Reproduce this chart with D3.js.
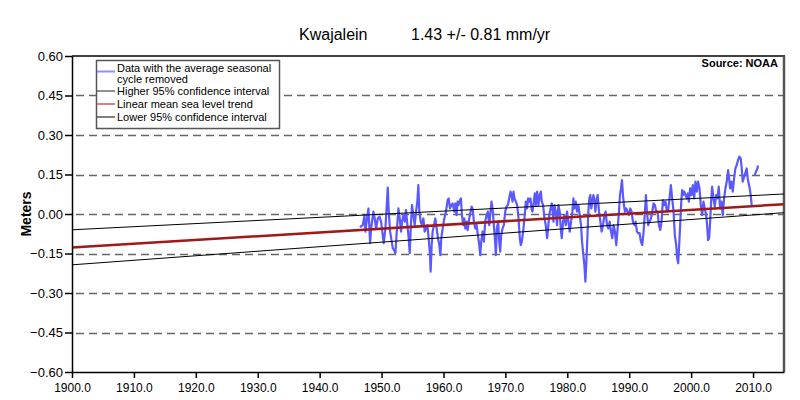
<!DOCTYPE html>
<html>
<head>
<meta charset="utf-8">
<script src="https://cdn.jsdelivr.net/npm/d3@7"></script>
<style>
body { margin: 0; background: #fff; }
text { font-family: "Liberation Sans", Arial, sans-serif; fill: #000; }
</style>
</head>
<body>
<svg id="chart" width="800" height="400"></svg>
<script>
// monthly means with the seasonal cycle removed
var years = [
  1946.5, 1946.97, 1947.24, 1947.40, 1947.51, 1947.88, 1948.15, 1948.31, 1948.69, 1948.85,
  1949.12, 1949.39, 1949.66, 1949.92, 1950.19, 1950.35, 1950.62, 1950.84, 1951.00, 1951.16,
  1951.38, 1951.64, 1951.81, 1952.02, 1952.24, 1952.45, 1952.72, 1952.88, 1953.15, 1953.31,
  1953.53, 1953.74, 1953.95, 1954.17, 1954.38, 1954.55, 1954.71, 1954.92, 1955.14, 1955.35,
  1955.57, 1955.78, 1955.94, 1956.10, 1956.32, 1956.53, 1956.75, 1956.96, 1957.18, 1957.39,
  1957.61, 1957.82, 1957.93, 1958.09, 1958.25, 1958.47, 1958.68, 1958.90, 1959.11, 1959.33,
  1959.49, 1959.65, 1959.87, 1960.13, 1960.40, 1960.67, 1960.83, 1961.05, 1961.26, 1961.48,
  1961.75, 1961.91, 1962.12, 1962.28, 1962.44, 1962.66, 1962.82, 1962.98, 1963.20, 1963.36,
  1963.52, 1963.73, 1963.90, 1964.16, 1964.38, 1964.54, 1964.70, 1964.92, 1965.13, 1965.35,
  1965.56, 1965.78, 1965.94, 1966.10, 1966.31, 1966.53, 1966.74, 1966.96, 1967.17, 1967.39,
  1967.60, 1967.76, 1967.93, 1968.09, 1968.30, 1968.46, 1968.62, 1968.84, 1969.00, 1969.16,
  1969.32, 1969.54, 1969.75, 1969.97, 1970.18, 1970.40, 1970.61, 1970.83, 1970.99, 1971.15,
  1971.31, 1971.47, 1971.69, 1971.90, 1972.12, 1972.33, 1972.49, 1972.65, 1972.87, 1973.08,
  1973.30, 1973.51, 1973.67, 1973.84, 1974.05, 1974.21, 1974.37, 1974.59, 1974.75, 1974.91,
  1975.13, 1975.34, 1975.56, 1975.72, 1975.88, 1976.09, 1976.31, 1976.52, 1976.74, 1976.90,
  1977.06, 1977.28, 1977.49, 1977.60, 1977.76, 1977.92, 1978.13, 1978.35, 1978.56, 1978.78,
  1978.94, 1979.10, 1979.32, 1979.53, 1979.75, 1979.96, 1980.18, 1980.39, 1980.61, 1980.82,
  1980.98, 1981.14, 1981.36, 1981.57, 1981.79, 1982.00, 1982.22, 1982.38, 1982.54, 1982.76,
  1982.92, 1983.08, 1983.24, 1983.40, 1983.56, 1983.72, 1983.88, 1984.05, 1984.21, 1984.37,
  1984.53, 1984.69, 1984.91, 1985.12, 1985.34, 1985.55, 1985.77, 1985.98, 1986.19, 1986.41,
  1986.62, 1986.84, 1987.05, 1987.27, 1987.48, 1987.70, 1987.91, 1988.13, 1988.34, 1988.51,
  1988.67, 1988.83, 1988.99, 1989.15, 1989.31, 1989.53, 1989.74, 1989.96, 1990.17, 1990.39,
  1990.60, 1990.82, 1991.03, 1991.25, 1991.46, 1991.68, 1991.89, 1992.11, 1992.32, 1992.54,
  1992.70, 1992.86, 1993.07, 1993.29, 1993.50, 1993.72, 1993.93, 1994.15, 1994.36, 1994.58,
  1994.79, 1995.01, 1995.22, 1995.44, 1995.65, 1995.87, 1996.08, 1996.30, 1996.51, 1996.73,
  1996.94, 1997.16, 1997.37, 1997.59, 1997.75, 1997.91, 1998.07, 1998.23, 1998.39, 1998.55,
  1998.71, 1998.88, 1999.09, 1999.31, 1999.47, 1999.63, 1999.84, 2000.06, 2000.27, 2000.49,
  2000.70, 2000.92, 2001.13, 2001.35, 2001.56, 2001.78, 2001.99, 2002.21, 2002.42, 2002.58,
  2002.74, 2002.91, 2003.07, 2003.23, 2003.39, 2003.60, 2003.82, 2004.03, 2004.25, 2004.46,
  2004.68, 2004.89, 2005.11, 2005.32, 2005.54, 2005.75, 2005.97, 2006.13, 2006.29, 2006.51,
  2006.72, 2006.94, 2007.15, 2007.37, 2007.58, 2007.80, 2008.01, 2008.17, 2008.33, 2008.49,
  2008.66, 2008.82, 2008.98, 2009.14, 2009.30, 2009.46, 2009.62, 2009.78, 2010.00, 2010.27,
  2010.48, 2010.70, 2010.80
];
var seaLevel = [
  -0.050, -0.042, -0.006, -0.067, -0.042, 0.021, -0.111, -0.055, 0.009, -0.010,
  -0.055, -0.017, -0.010, -0.029, -0.080, -0.111, -0.055, 0.034, 0.100, 0.009,
  -0.067, -0.105, -0.130, -0.137, -0.149, -0.067, 0.021, -0.004, -0.067, -0.029,
  -0.004, -0.029, 0.015, -0.042, -0.092, -0.149, -0.055, 0.034, -0.004, -0.042,
  0.009, 0.047, 0.110, 0.009, -0.029, -0.042, -0.017, -0.067, -0.055, -0.042,
  -0.092, -0.156, -0.219, -0.118, -0.067, -0.042, -0.017, -0.055, -0.092, -0.118,
  -0.156, -0.092, -0.055, -0.017, 0.009, 0.053, 0.059, 0.021, 0.034, 0.040,
  0.009, 0.040, -0.004, 0.047, 0.034, 0.053, 0.059, -0.004, -0.042, -0.017,
  -0.055, -0.029, -0.061, -0.017, 0.009, 0.028, 0.021, -0.029, -0.055, -0.042,
  -0.080, -0.118, -0.156, -0.105, -0.067, -0.105, -0.029, -0.004, 0.009, -0.042,
  0.009, 0.047, 0.021, -0.029, -0.092, -0.156, -0.055, -0.029, -0.105, -0.143,
  -0.080, -0.055, -0.042, 0.009, 0.028, 0.034, 0.059, 0.085, 0.072, 0.047,
  0.085, 0.059, 0.047, 0.034, -0.017, -0.092, -0.118, -0.105, -0.067, -0.017,
  0.047, 0.021, 0.059, 0.047, 0.059, 0.021, 0.009, 0.047, 0.078, 0.034,
  0.085, 0.034, 0.072, 0.085, 0.047, 0.034, -0.017, -0.042, -0.092, -0.055,
  -0.010, 0.020, 0.040, 0.021, -0.029, 0.034, 0.009, -0.042, 0.034, 0.009,
  -0.055, -0.092, -0.029, -0.004, -0.042, 0.009, -0.029, -0.067, -0.029, 0.009,
  0.059, 0.021, 0.047, 0.009, 0.034, -0.004, -0.042, -0.105, -0.143, -0.194,
  -0.257, -0.181, -0.092, 0.009, 0.059, 0.072, 0.021, 0.047, 0.072, 0.059,
  0.009, 0.047, 0.072, 0.009, -0.029, -0.067, -0.042, -0.004, 0.009, -0.042,
  -0.055, -0.029, -0.067, -0.092, -0.042, -0.067, -0.118, -0.055, 0.009, 0.072,
  0.097, 0.129, 0.072, 0.034, 0.009, 0.021, 0.009, -0.004, 0.021, 0.009,
  -0.029, -0.042, -0.029, -0.067, -0.073, -0.073, -0.105, -0.118, -0.067, 0.009,
  0.072, 0.009, -0.042, -0.029, -0.017, 0.009, 0.040, 0.034, 0.009, 0.009,
  -0.042, -0.061, -0.029, 0.053, 0.034, 0.047, 0.009, 0.015, 0.059, 0.110,
  0.059, 0.009, -0.080, -0.118, -0.168, -0.187, -0.118, -0.042, 0.040, 0.091,
  0.072, 0.085, 0.072, 0.059, 0.078, 0.047, 0.097, 0.072, 0.110, 0.059,
  0.123, 0.085, 0.123, 0.097, 0.034, -0.004, 0.047, 0.021, -0.004, -0.042,
  -0.099, -0.092, -0.029, 0.047, 0.104, 0.059, 0.028, 0.072, 0.059, 0.104,
  0.021, 0.047, -0.004, 0.059, 0.097, 0.123, 0.167, 0.135, 0.097, 0.123,
  0.085, 0.135, 0.173, 0.186, 0.205, 0.218, 0.211, 0.173, 0.123, 0.135,
  0.148, 0.161, 0.173, 0.135, 0.116, 0.097, 0.072, 0.034, null, 0.148,
  0.161, 0.173, 0.184
];
// fitted trend and its 95% band, at the ends of the axis
var fitYears = [1900, 2015];
var trend = [-0.127, 0.037];
var upper95 = [-0.060, 0.076];
var lower95 = [-0.193, 0.005];

var yTicks = [-0.60, -0.45, -0.30, -0.15, 0.00, 0.15, 0.30, 0.45, 0.60];
var xTicks = [1900, 1910, 1920, 1930, 1940, 1950, 1960, 1970, 1980, 1990, 2000, 2010];

var svg = d3.select("#chart");
var plotLeft = 72, plotRight = 784, plotTop = 56, plotBottom = 372;

var x = d3.scaleLinear().domain([1900, 2015]).range([plotLeft, plotRight]);
var y = d3.scaleLinear().domain([-0.6, 0.6]).range([plotBottom, plotTop]);

svg.append("defs").append("clipPath").attr("id", "plot")
  .append("rect").attr("x", plotLeft).attr("y", plotTop)
  .attr("width", plotRight - plotLeft).attr("height", plotBottom - plotTop);

// dashed grid
svg.append("g").selectAll("line")
  .data(yTicks.filter(function (d) { return d > -0.6 && d < 0.6; }))
  .enter().append("line")
  .attr("x1", plotLeft + 4).attr("x2", plotRight)
  .attr("y1", function (d) { return Math.round(y(d)) + 0.5; })
  .attr("y2", function (d) { return Math.round(y(d)) + 0.5; })
  .attr("stroke", "#666").attr("stroke-width", 1.3)
  .attr("stroke-dasharray", "8,5");

// frame top and right
svg.append("line").attr("x1", plotLeft).attr("x2", plotRight + 1).attr("y1", plotTop).attr("y2", plotTop)
  .attr("stroke", "#000").attr("stroke-width", 1.5);
svg.append("line").attr("x1", plotRight).attr("x2", plotRight).attr("y1", plotTop).attr("y2", plotBottom)
  .attr("stroke", "#555").attr("stroke-width", 2.5);

var plot = svg.append("g").attr("clip-path", "url(#plot)");

var seaLine = d3.line()
  .defined(function (d) { return d[1] !== null; })
  .x(function (d) { return x(d[0]); })
  .y(function (d) { return y(d[1]); });

plot.append("path")
  .datum(years.map(function (yr, i) { return [yr, seaLevel[i]]; }))
  .attr("d", seaLine)
  .attr("fill", "none").attr("stroke", "#5959ff").attr("stroke-width", 2.2)
  .attr("stroke-linejoin", "round");

function fitLine(vals) {
  return fitYears.map(function (yr, i) { return [yr, vals[i]]; });
}
plot.append("path").datum(fitLine(upper95)).attr("d", seaLine)
  .attr("fill", "none").attr("stroke", "#000").attr("stroke-width", 1);
plot.append("path").datum(fitLine(lower95)).attr("d", seaLine)
  .attr("fill", "none").attr("stroke", "#000").attr("stroke-width", 1);
plot.append("path").datum(fitLine(trend)).attr("d", seaLine)
  .attr("fill", "none").attr("stroke", "#a01818").attr("stroke-width", 2.5);

// axes
var yAxis = svg.append("g").attr("transform", "translate(" + plotLeft + ",0)")
  .call(d3.axisLeft(y).tickValues(yTicks).tickFormat(d3.format(".2f"))
    .tickSize(7).tickSizeOuter(0).tickPadding(2));
var xAxis = svg.append("g").attr("transform", "translate(0," + plotBottom + ")")
  .call(d3.axisBottom(x).tickValues(xTicks).tickFormat(d3.format(".1f"))
    .tickSize(6).tickSizeOuter(0).tickPadding(5));
[yAxis, xAxis].forEach(function (a) {
  a.select(".domain").attr("stroke", "#000").attr("stroke-width", 1.5);
  a.selectAll(".tick line").attr("stroke", "#000").attr("stroke-width", 1.5);
  a.selectAll("text").attr("font-family", "Liberation Sans, Arial, sans-serif")
    .attr("fill", "#000");
});
yAxis.selectAll("text").attr("font-size", 13);
xAxis.selectAll("text").attr("font-size", 12);

svg.append("text").attr("transform", "translate(31,214) rotate(-90)")
  .attr("text-anchor", "middle").attr("font-size", 14).attr("font-weight", "bold")
  .text("Meters");

// title
svg.append("text").attr("x", 299).attr("y", 40).attr("font-size", 16).text("Kwajalein");
svg.append("text").attr("x", 411).attr("y", 40).attr("font-size", 16).text("1.43 +/- 0.81 mm/yr");

svg.append("text").attr("x", 778).attr("y", 67).attr("text-anchor", "end")
  .attr("font-size", 11).attr("font-weight", "bold").text("Source: NOAA");

// legend
var legend = svg.append("g");
legend.append("rect").attr("x", 96.5).attr("y", 60.5).attr("width", 183).attr("height", 68)
  .attr("fill", "#fff").attr("stroke", "#555").attr("stroke-width", 1.5);
var legendItems = [
  { lines: ["Data with the average seasonal", "cycle removed"], color: "#8e8eff", w: 2, ly: 71.5 },
  { lines: ["Higher 95% confidence interval"], color: "#222", w: 1, ly: 91 },
  { lines: ["Linear mean sea level trend"], color: "#c85a5a", w: 1.5, ly: 104 },
  { lines: ["Lower 95% confidence interval"], color: "#000", w: 1, ly: 117 }
];
var item = legend.selectAll("g.item").data(legendItems).enter().append("g");
item.append("line").attr("x1", 97).attr("x2", 115)
  .attr("y1", function (d) { return d.ly; }).attr("y2", function (d) { return d.ly; })
  .attr("stroke", function (d) { return d.color; })
  .attr("stroke-width", function (d) { return d.w; });
item.each(function (d) {
  var g = d3.select(this);
  d.lines.forEach(function (t, j) {
    var base = d.lines.length > 1 ? d.ly + 0.5 + j * 11 : d.ly + 4;
    g.append("text").attr("x", 117).attr("y", base).attr("font-size", 11).text(t);
  });
});
</script>
</body>
</html>
